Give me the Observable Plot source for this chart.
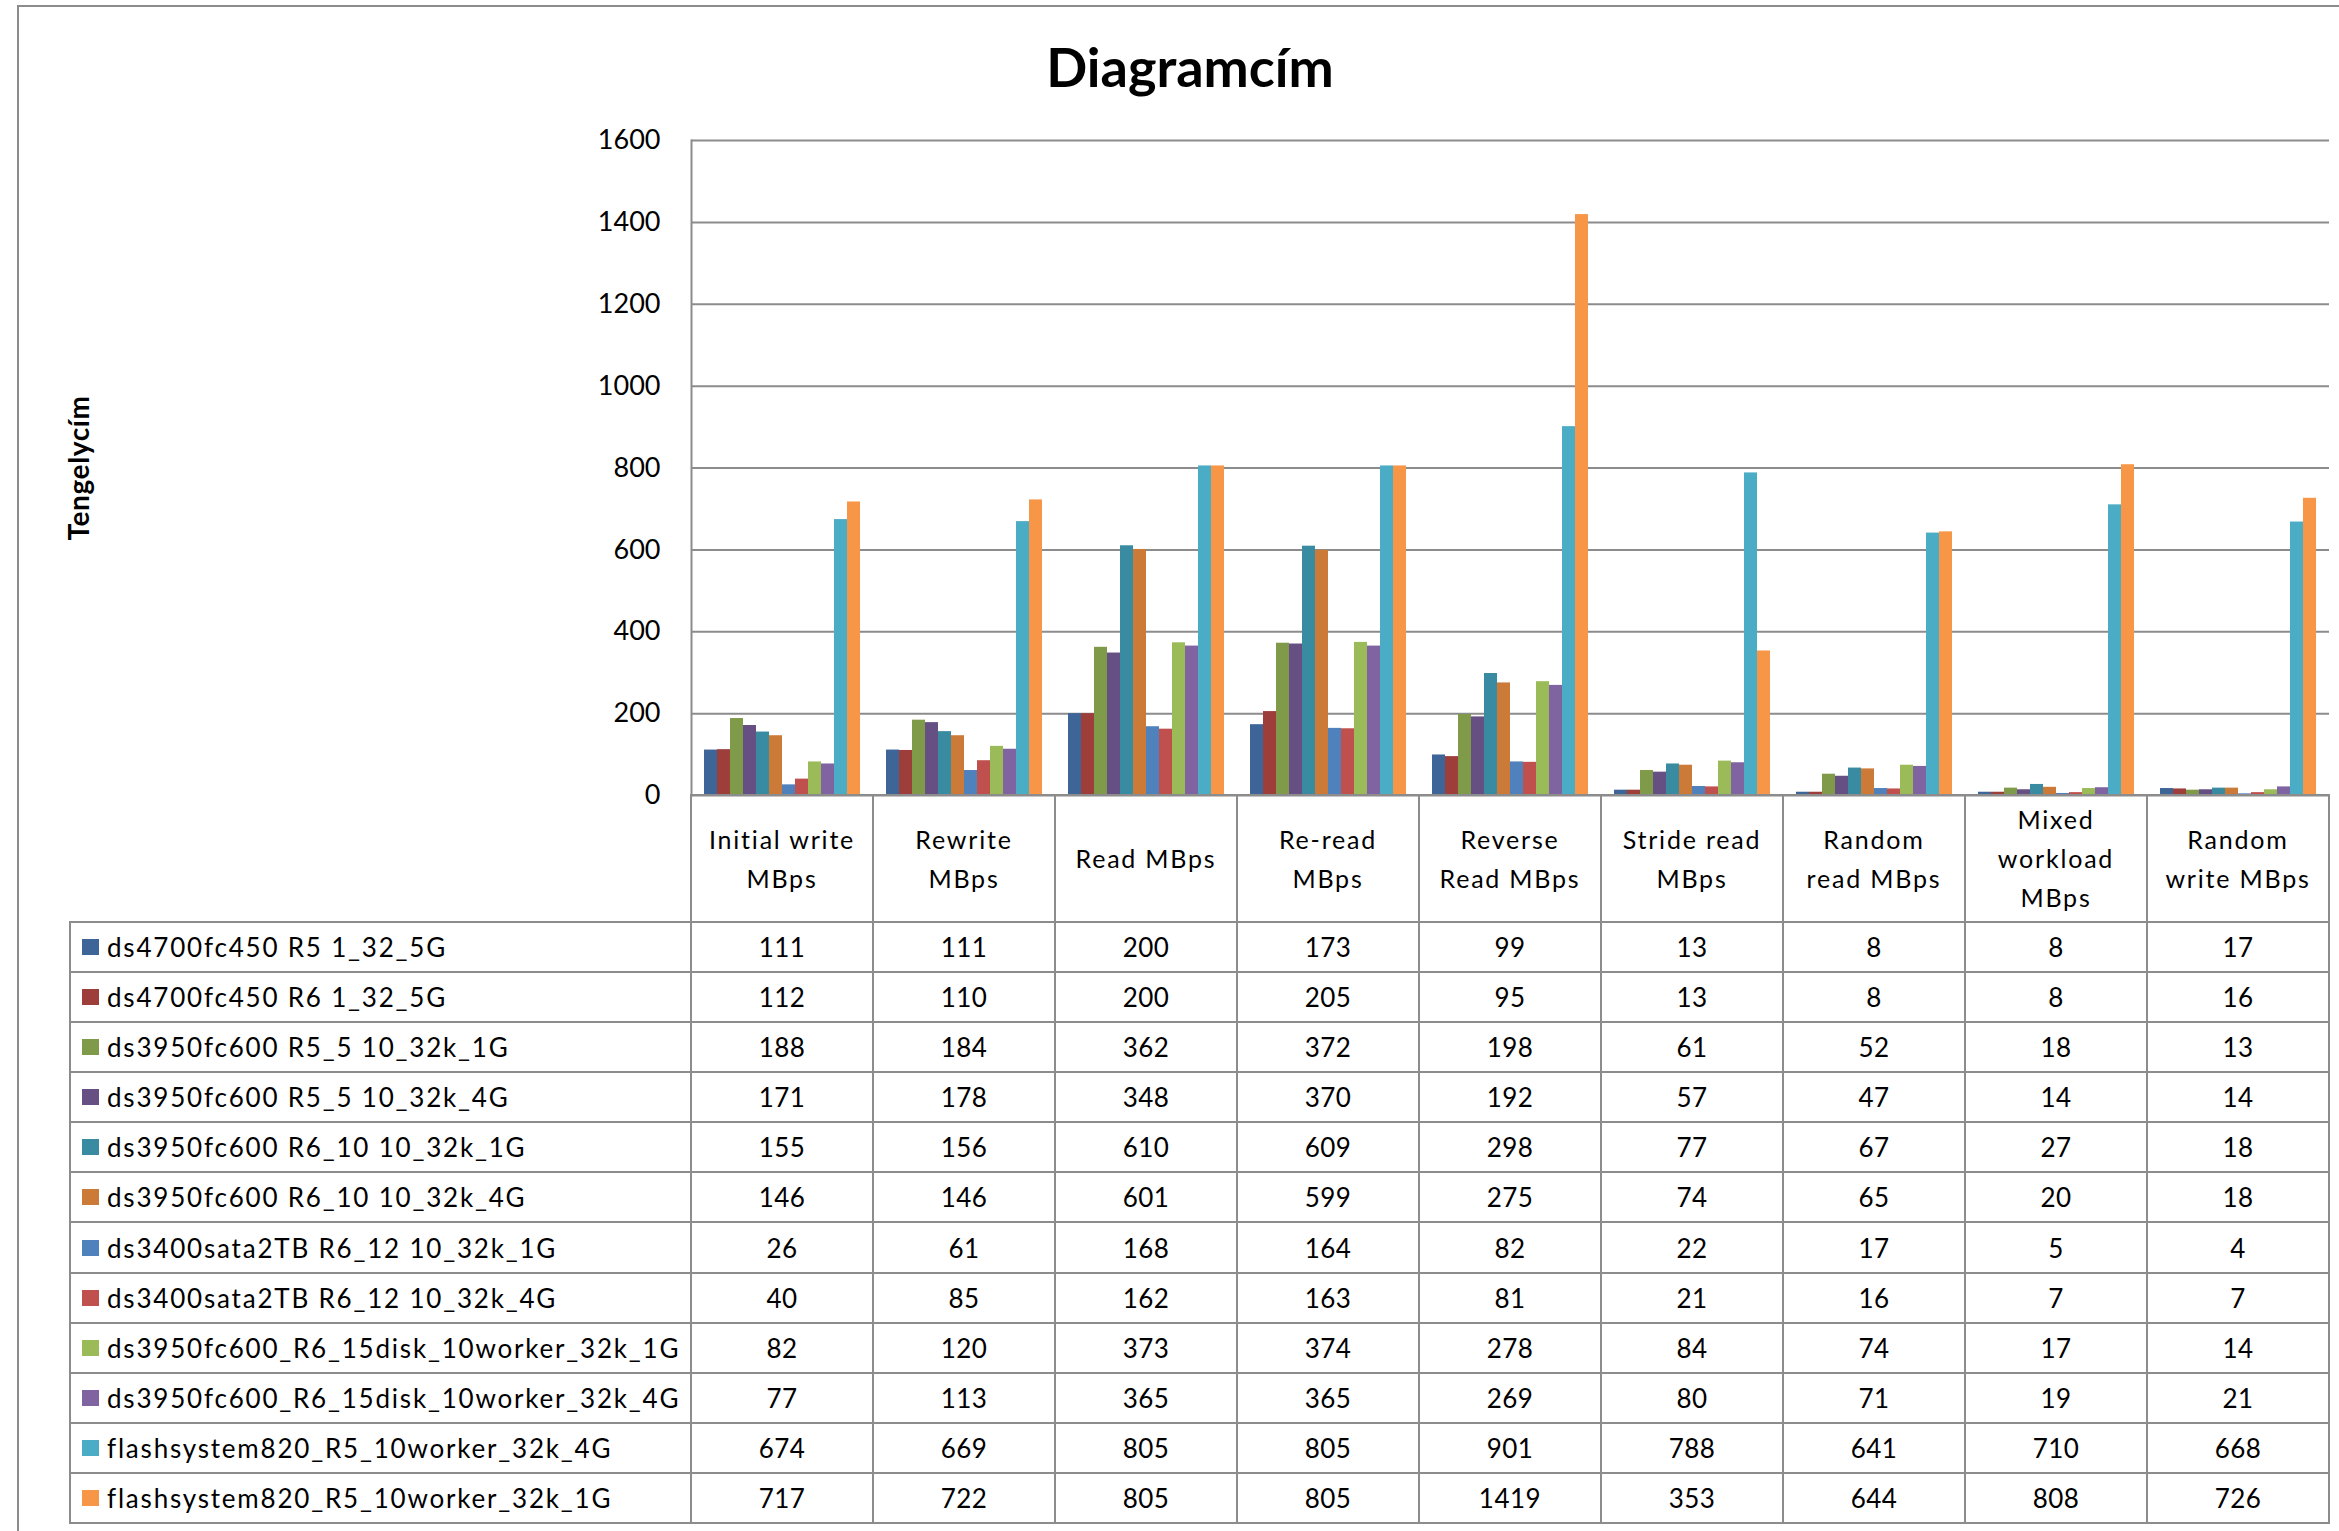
<!DOCTYPE html>
<html>
<head>
<meta charset="utf-8">
<script src="https://cdn.jsdelivr.net/npm/d3@7"></script>
<script src="https://cdn.jsdelivr.net/npm/@observablehq/plot@0.6"></script>
<style>
  html, body { margin: 0; padding: 0; background: #fff; }
  #chart { position: relative; width: 2339px; height: 1531px; overflow: hidden; font-family: Lato, "Open Sans", sans-serif; color: #000; }
  #border { position: absolute; left: 17px; top: 5px; width: 2400px; height: 1600px; border: 2px solid #8c8c8c; box-sizing: border-box; }
  #title { position: absolute; left: 0; top: 34px; width: 2380px; text-align: center; font-weight: 700; font-size: 54px; line-height: normal; }
  #plot { position: absolute; left: 0; top: 0; }
  .cell { position: absolute; box-sizing: border-box; border: 2px solid #8c8c8c; display: flex; align-items: center; justify-content: center; text-align: center; background: transparent; }
  .head { font-size: 25px; line-height: 39px; letter-spacing: 1.8px; white-space: pre; }
  .val { font-size: 26px; letter-spacing: 0.5px; }
  .name { justify-content: flex-start; font-size: 26px; letter-spacing: 1.8px; white-space: pre; }
  .swatch { display: inline-block; width: 17px; height: 16px; margin-left: 11px; margin-right: 8px; flex: none; }
</style>
</head>
<body>
<div id="chart">
  <div id="border"></div>
  <div id="title">Diagramcím</div>
  <div id="plot"></div>
</div>
<script>
// Benchmark categories (columns of the data table)
const categories = [
  "Initial write MBps", "Rewrite MBps", "Read MBps", "Re-read MBps",
  "Reverse Read MBps", "Stride read MBps", "Random read MBps",
  "Mixed workload MBps", "Random write MBps"
];
// Header text as wrapped in the table
const categoryLabels = [
  "Initial write\nMBps", "Rewrite\nMBps", "Read MBps", "Re-read\nMBps",
  "Reverse\nRead MBps", "Stride read\nMBps", "Random\nread MBps",
  "Mixed\nworkload\nMBps", "Random\nwrite MBps"
];

// Storage configurations (series)
const seriesNames = [
  "ds4700fc450 R5 1_32_5G",
  "ds4700fc450 R6 1_32_5G",
  "ds3950fc600 R5_5 10_32k_1G",
  "ds3950fc600 R5_5 10_32k_4G",
  "ds3950fc600 R6_10 10_32k_1G",
  "ds3950fc600 R6_10 10_32k_4G",
  "ds3400sata2TB R6_12 10_32k_1G",
  "ds3400sata2TB R6_12 10_32k_4G",
  "ds3950fc600_R6_15disk_10worker_32k_1G",
  "ds3950fc600_R6_15disk_10worker_32k_4G",
  "flashsystem820_R5_10worker_32k_4G",
  "flashsystem820_R5_10worker_32k_1G"
];

// Throughput per configuration, one value per category (MBps)
const ds4700R5 = [111, 111, 200, 173, 99, 13, 8, 8, 17];
const ds4700R6 = [112, 110, 200, 205, 95, 13, 8, 8, 16];
const ds3950R5_1G = [188, 184, 362, 372, 198, 61, 52, 18, 13];
const ds3950R5_4G = [171, 178, 348, 370, 192, 57, 47, 14, 14];
const ds3950R6_1G = [155, 156, 610, 609, 298, 77, 67, 27, 18];
const ds3950R6_4G = [146, 146, 601, 599, 275, 74, 65, 20, 18];
const ds3400R6_1G = [26, 61, 168, 164, 82, 22, 17, 5, 4];
const ds3400R6_4G = [40, 85, 162, 163, 81, 21, 16, 7, 7];
const ds3950Disk15_1G = [82, 120, 373, 374, 278, 84, 74, 17, 14];
const ds3950Disk15_4G = [77, 113, 365, 365, 269, 80, 71, 19, 21];
const flash820_4G = [674, 669, 805, 805, 901, 788, 641, 710, 668];
const flash820_1G = [717, 722, 805, 805, 1419, 353, 644, 808, 726];

const seriesValues = [
  ds4700R5, ds4700R6, ds3950R5_1G, ds3950R5_4G, ds3950R6_1G, ds3950R6_4G,
  ds3400R6_1G, ds3400R6_4G, ds3950Disk15_1G, ds3950Disk15_4G, flash820_4G, flash820_1G
];

const seriesColors = [
  "#3E6597", "#9E3E3B", "#7F9A48", "#664F83", "#398BA1", "#CC7A37",
  "#4F81BD", "#C0504D", "#9BBB59", "#8064A2", "#4BACC6", "#F79646"
];

const yTicks = [0, 200, 400, 600, 800, 1000, 1200, 1400, 1600];

// Long-format rows for the bar mark
const rows = [];
seriesNames.forEach((s, i) => {
  categories.forEach((c, j) => rows.push({category: c, series: s, value: seriesValues[i][j]}));
});

const gridColor = "#8c8c8c";

const plot = Plot.plot({
  width: 2339,
  height: 800,
  marginLeft: 689,
  marginRight: 9,
  marginTop: 140,
  marginBottom: 5,
  style: {fontFamily: "Lato, 'Open Sans', sans-serif", fontSize: "27px", color: "#000", background: "transparent", overflow: "visible"},
  fx: {domain: categories, padding: 0, axis: null},
  x: {domain: seriesNames, paddingInner: 0, paddingOuter: 0.75, axis: null},
  y: {domain: [0, 1600], axis: null},
  color: {domain: seriesNames, range: seriesColors},
  marks: [
    Plot.gridY(yTicks, {stroke: gridColor, strokeOpacity: 1, strokeWidth: 2}),
    Plot.axisY(yTicks, {
      tickSize: 0, tickPadding: 31, fontSize: 27, fill: "#000",
      tickFormat: d => String(d),
      label: "Tengelycím", labelAnchor: "center", labelOffset: 622, labelArrow: "none"
    }),
    Plot.frame({anchor: "left", fx: () => categories[0], stroke: gridColor, strokeWidth: 2}),
    Plot.barY(rows, {fx: "category", x: "series", y: "value", fill: "series"})
  ]
});

// Axis title in bold
const yLabel = plot.querySelector('g[aria-label="y-axis label"]');
if (yLabel) {
  yLabel.setAttribute("font-weight", "bold");
  yLabel.setAttribute("font-size", "28");
  yLabel.querySelectorAll("text").forEach(t => {
    t.setAttribute("font-weight", "bold");
    t.setAttribute("font-size", "28");
    t.setAttribute("letter-spacing", "0.6");
  });
}

document.getElementById("plot").appendChild(plot);

// Data table under the bars, columns aligned with the facet bands
const fx = plot.scale("fx");
const color = plot.scale("color");
const chart = document.getElementById("chart");

const tableTop = 795;      // chart baseline
const headBottom = 922;
const rowH = 50.08;
const legendLeft = 70;
const colLeft = categories.map(c => fx.apply(c));
const colW = fx.bandwidth ?? fx.step;
const plotLeft = colLeft[0];

function cell(x0, y0, x1, y1, cls) {
  const d = document.createElement("div");
  d.className = "cell " + cls;
  d.style.left = (x0 - 1) + "px";
  d.style.top = (y0 - 1) + "px";
  d.style.width = (x1 - x0 + 2) + "px";
  d.style.height = (y1 - y0 + 2) + "px";
  chart.appendChild(d);
  return d;
}

// header row: category labels
categories.forEach((c, j) => {
  const d = cell(colLeft[j], tableTop, colLeft[j] + colW, headBottom, "head");
  d.textContent = categoryLabels[j];
});

// one row per series: legend key + values
seriesNames.forEach((s, i) => {
  const y0 = headBottom + i * rowH, y1 = y0 + rowH;
  const n = cell(legendLeft, y0, plotLeft, y1, "name");
  const sw = document.createElement("span");
  sw.className = "swatch";
  sw.style.background = color.apply(s);
  n.appendChild(sw);
  n.appendChild(document.createTextNode(s));
  categories.forEach((c, j) => {
    const d = cell(colLeft[j], y0, colLeft[j] + colW, y1, "val");
    d.textContent = seriesValues[i][j];
  });
});
</script>
</body>
</html>
